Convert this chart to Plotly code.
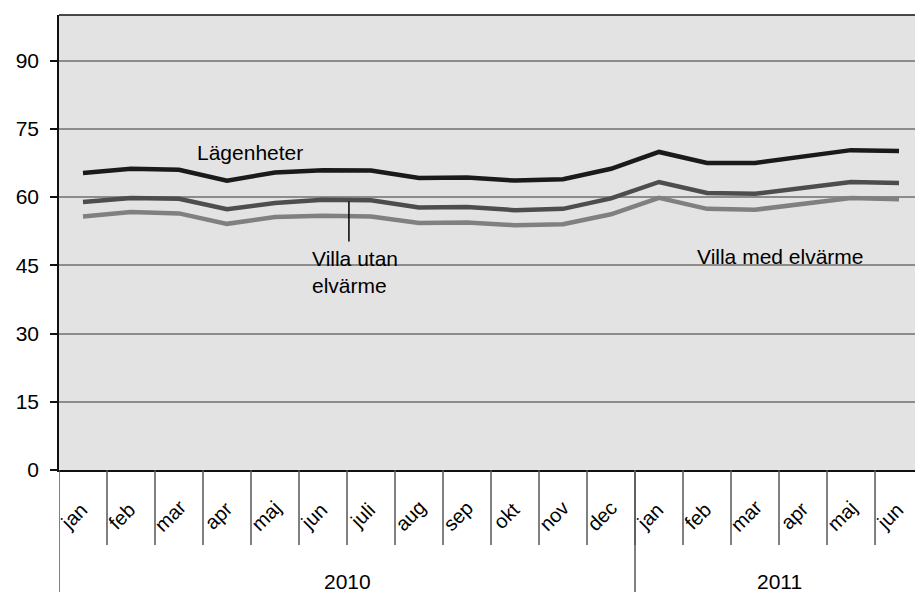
import plotly.graph_objects as go

months = ["jan", "feb", "mar", "apr", "maj", "jun", "juli", "aug", "sep", "okt", "nov", "dec",
          "jan", "feb", "mar", "apr", "maj", "jun"]
years = ["2010", "2011"]
year_counts = [12, 6]

lagenheter = [65.3, 66.2, 66.0, 63.6, 65.4, 65.9, 65.8, 64.2, 64.3, 63.6, 63.9, 66.2,
              69.9, 67.5, 67.5, 69.0, 70.3, 70.1]
villa_utan = [58.9, 59.8, 59.6, 57.3, 58.7, 59.4, 59.3, 57.7, 57.8, 57.1, 57.4, 59.7,
              63.3, 60.9, 60.7, 62.1, 63.3, 63.1]
villa_med = [55.7, 56.7, 56.4, 54.1, 55.6, 55.9, 55.7, 54.3, 54.4, 53.8, 54.0, 56.2,
             59.8, 57.4, 57.2, 58.4, 59.8, 59.5]

x = list(range(len(months)))
FONT = "Liberation Sans, Arial, sans-serif"

fig = go.Figure()
fig.add_trace(go.Scatter(x=x, y=villa_med, mode="lines", line=dict(color="#808080", width=4.5), name="Villa med elvärme"))
fig.add_trace(go.Scatter(x=x, y=villa_utan, mode="lines", line=dict(color="#4d4d4d", width=4.5), name="Villa utan elvärme"))
fig.add_trace(go.Scatter(x=x, y=lagenheter, mode="lines", line=dict(color="#1a1a1a", width=4.5), name="Lägenheter"))

H = 455.0  # plot height in px
def py(px_below):
    return -px_below / H

shapes = []
# month dividers
for i in range(len(months)):
    shapes.append(dict(type="line", xref="x", yref="paper", x0=i + 0.5, x1=i + 0.5,
                       y0=0, y1=py(75), line=dict(color="#555555", width=1.5)))
# year dividers
start = 0
for c in year_counts:
    shapes.append(dict(type="line", xref="x", yref="paper", x0=start - 0.5, x1=start - 0.5,
                       y0=py(125), y1=0, line=dict(color="#555555", width=1.5)))
    start += c
# top border
shapes.append(dict(type="line", xref="paper", yref="paper", x0=0, x1=1, y0=1, y1=1,
                   line=dict(color="#111111", width=1.5)))
# leader line for Villa utan elvärme
shapes.append(dict(type="line", xref="x", yref="y", x0=5.54, x1=5.54, y0=59.0, y1=50.2,
                   line=dict(color="#000000", width=1.5)))

annotations = []
for i, m in enumerate(months):
    annotations.append(dict(x=i, y=py(46), xref="x", yref="paper", text=m, showarrow=False,
                            xanchor="center", yanchor="middle",
                            textangle=-45, xshift=-9, font=dict(family=FONT, size=20, color="#000")))
start = 0
for yl, c in zip(years, year_counts):
    annotations.append(dict(x=start - 0.5 + c / 2, y=py(111), xref="x", yref="paper", text=yl,
                            xanchor="center", yanchor="middle",
                            showarrow=False, font=dict(family=FONT, size=21, color="#000")))
    start += c

annotations.append(dict(x=3.47, y=69.8, xref="x", yref="y", text="Lägenheter", showarrow=False,
                        font=dict(family=FONT, size=21, color="#000")))
annotations.append(dict(x=4.72, y=43.5, xref="x", yref="y", text="Villa utan<br>elvärme", showarrow=False,
                        xanchor="left", align="left", font=dict(family=FONT, size=21, color="#000")))
annotations.append(dict(x=12.75, y=46.9, xref="x", yref="y", text="Villa med elvärme", showarrow=False,
                        xanchor="left", font=dict(family=FONT, size=21, color="#000")))

fig.update_layout(
    width=915, height=592,
    margin=dict(l=59, r=0, t=15, b=122, autoexpand=False),
    paper_bgcolor="white", plot_bgcolor="#e3e3e3",
    showlegend=False, hovermode=False,
    shapes=shapes, annotations=annotations,
    xaxis=dict(range=[-0.5, 17.333], showticklabels=False, showgrid=False, zeroline=False,
               showline=True, linecolor="#111111", linewidth=1.5, ticks="", automargin=False),
    yaxis=dict(range=[0, 100], tickvals=[0, 15, 30, 45, 60, 75, 90], showgrid=True,
               gridcolor="#8c8c8c", gridwidth=1.5, zeroline=False, showline=True,
               linecolor="#111111", linewidth=1.5, ticks="outside", ticklen=7, tickcolor="#111111",
               tickwidth=1.5, ticklabelstandoff=7, automargin=False,
               tickfont=dict(family=FONT, size=21, color="#000")),
)

fig.write_html("out.html", config={"displayModeBar": False},
               post_script="document.body.style.margin='0px';document.body.style.overflow='hidden';")
